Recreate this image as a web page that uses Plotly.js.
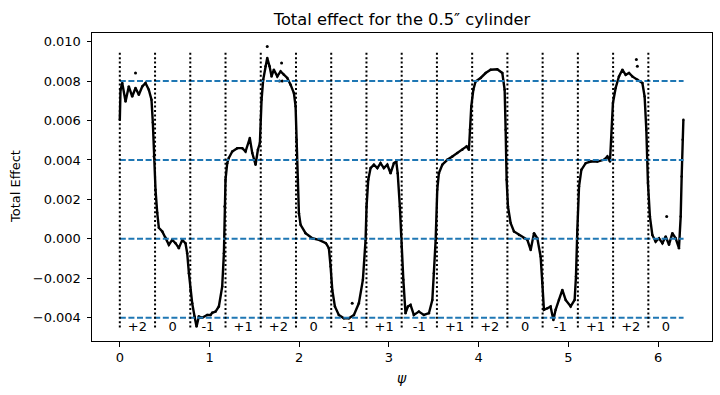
<!DOCTYPE html>
<html>
<head>
<meta charset="utf-8">
<script src="https://cdn.plot.ly/plotly-3.0.1.min.js"></script>
<style>html,body{margin:0;padding:0;background:#fff;}#chart{width:720px;height:395px;}</style>
</head>
<body>
<div id="chart"></div>
<script>
// Main measured curve: psi (rad) and total effect
const psi = [0.000,0.008,0.027,0.064,0.100,0.138,0.175,0.212,0.250,0.286,0.323,0.353,0.368,0.379,0.398,0.417,0.435,0.473,0.510,0.547,0.584,0.621,0.658,0.696,0.732,0.751,0.770,0.788,0.807,0.833,0.855,0.881,0.918,0.974,1.011,1.030,1.067,1.104,1.141,1.160,1.167,1.178,1.197,1.215,1.253,1.309,1.365,1.401,1.449,1.476,1.513,1.539,1.561,1.569,1.580,1.598,1.624,1.643,1.669,1.691,1.717,1.755,1.792,1.828,1.866,1.903,1.940,1.959,1.970,1.985,1.996,2.015,2.070,2.145,2.219,2.297,2.330,2.349,2.368,2.397,2.441,2.497,2.553,2.609,2.664,2.709,2.739,2.750,2.769,2.795,2.832,2.870,2.906,2.943,2.981,3.018,3.055,3.081,3.097,3.121,3.140,3.160,3.184,3.211,3.240,3.277,3.333,3.389,3.445,3.483,3.500,3.520,3.538,3.556,3.594,3.650,3.706,3.761,3.817,3.865,3.891,3.902,3.917,3.940,3.965,4.021,4.077,4.133,4.207,4.263,4.289,4.300,4.311,4.326,4.356,4.393,4.449,4.505,4.542,4.579,4.616,4.653,4.690,4.709,4.727,4.765,4.801,4.832,4.857,4.894,4.932,4.969,5.025,5.069,5.084,5.099,5.118,5.144,5.192,5.248,5.322,5.396,5.434,5.463,5.478,5.496,5.526,5.563,5.601,5.638,5.675,5.712,5.768,5.824,5.849,5.868,5.886,5.908,5.935,5.972,6.009,6.047,6.084,6.121,6.158,6.195,6.232,6.251,6.262,6.273,6.281];
const effect = [6.04e-3,7.56e-3,7.90e-3,6.97e-3,7.73e-3,7.22e-3,7.65e-3,7.31e-3,7.73e-3,7.90e-3,7.56e-3,7.06e-3,5.90e-3,4.18e-3,2.49e-3,1.32e-3,0.56e-3,0.37e-3,0.05e-3,-0.30e-3,-0.05e-3,-0.22e-3,-0.47e-3,-0.05e-3,-0.22e-3,-0.73e-3,-1.74e-3,-2.59e-3,-3.27e-3,-3.94e-3,-4.45e-3,-3.94e-3,-4.00e-3,-3.86e-3,-3.86e-3,-3.75e-3,-3.69e-3,-3.43e-3,-2.42e-3,-0.73e-3,1.64e-3,3.00e-3,3.84e-3,4.10e-3,4.43e-3,4.60e-3,4.60e-3,4.43e-3,5.11e-3,4.35e-3,3.76e-3,4.52e-3,4.86e-3,6.04e-3,7.06e-3,8.07e-3,8.75e-3,9.17e-3,8.75e-3,8.24e-3,8.58e-3,8.24e-3,8.49e-3,8.32e-3,8.16e-3,7.82e-3,7.40e-3,6.72e-3,5.03e-3,3.00e-3,1.30e-3,0.71e-3,0.29e-3,0.03e-3,-0.05e-3,-0.22e-3,-0.47e-3,-1.40e-3,-2.59e-3,-3.43e-3,-3.86e-3,-4.03e-3,-4.03e-3,-3.86e-3,-3.27e-3,-2.08e-3,-0.05e-3,1.64e-3,3.00e-3,3.59e-3,3.76e-3,3.59e-3,3.84e-3,3.59e-3,3.76e-3,3.33e-3,3.84e-3,3.92e-3,3.33e-3,1.64e-3,-0.39e-3,-2.08e-3,-3.77e-3,-3.43e-3,-3.35e-3,-3.86e-3,-3.69e-3,-3.86e-3,-3.77e-3,-3.10e-3,-1.74e-3,-0.05e-3,2.49e-3,3.33e-3,3.76e-3,4.01e-3,4.18e-3,4.35e-3,4.52e-3,4.69e-3,4.52e-3,5.53e-3,6.72e-3,7.56e-3,7.98e-3,8.16e-3,8.41e-3,8.58e-3,8.60e-3,8.41e-3,7.56e-3,5.53e-3,3.00e-3,1.64e-3,0.80e-3,0.37e-3,0.20e-3,0.03e-3,-0.05e-3,-0.56e-3,0.29e-3,0.03e-3,-0.90e-3,-2.25e-3,-3.60e-3,-3.52e-3,-3.43e-3,-4.11e-3,-3.60e-3,-3.10e-3,-2.59e-3,-3.10e-3,-3.43e-3,-3.10e-3,-1.91e-3,0.46e-3,2.65e-3,3.50e-3,3.84e-3,3.92e-3,3.92e-3,4.01e-3,4.18e-3,3.92e-3,5.03e-3,6.89e-3,7.65e-3,8.24e-3,8.58e-3,8.32e-3,8.41e-3,8.24e-3,8.07e-3,7.90e-3,7.22e-3,5.53e-3,2.83e-3,1.13e-3,0.20e-3,-0.14e-3,0.03e-3,-0.22e-3,0.12e-3,-0.30e-3,0.29e-3,0.03e-3,-0.47e-3,1.13e-3,3.16e-3,5.03e-3,6.04e-3];
// Isolated outlying points
const outlierPsi = [0.175,1.643,1.780,1.803,1.810,2.590,5.757,5.768,6.095];
const outlierEffect = [8.41e-3,9.76e-3,8.00e-3,8.92e-3,8.00e-3,-3.27e-3,9.09e-3,8.75e-3,1.13e-3];
// Reference levels and sector labels
const levels = [0.008, 0.004, 0.0, -0.004];
const sectorLabels = ['+2','0','-1','+1','+2','0','-1','+1','-1','+1','+2','0','-1','+1','+2','0'];
const sectorLineBottom = -0.0045, sectorLineTop = 0.0095, labelY = -0.0045;
const xTicks = [0,1,2,3,4,5,6];
const yTicks = [-0.004,-0.002,0,0.002,0.004,0.006,0.008,0.010];

const FONT = 'DejaVu Sans, sans-serif';
const traces = [];
traces.push({x: psi, y: effect, type: 'scatter', mode: 'lines+markers',
  line: {color: '#000', width: 2.4}, marker: {color: '#000', size: 2.5}, hoverinfo: 'skip'});
traces.push({x: outlierPsi, y: outlierEffect, type: 'scatter', mode: 'markers',
  marker: {color: '#000', size: 3}, hoverinfo: 'skip'});
// horizontal dashed levels
const hx = [], hy = [];
levels.forEach(v => { hx.push(0, 2*Math.PI, null); hy.push(v, v, null); });
traces.push({x: hx, y: hy, type: 'scatter', mode: 'lines',
  line: {color: '#1f77b4', width: 2, dash: '6px,2.6px'}, hoverinfo: 'skip'});
// vertical dotted sector edges
const vx = [], vy = [], lx = [];
sectorLabels.forEach((s, k) => {
  const e = k*Math.PI/8;
  vx.push(e, e, null); vy.push(sectorLineBottom, sectorLineTop, null);
  lx.push(e + Math.PI/16);
});
traces.push({x: vx, y: vy, type: 'scatter', mode: 'lines',
  line: {color: '#000', width: 2, dash: '2px,2.4px'}, hoverinfo: 'skip'});
traces.push({x: lx, y: sectorLabels.map(() => labelY), text: sectorLabels, type: 'scatter', mode: 'text',
  textposition: 'middle center', textfont: {family: FONT, size: 13, color: '#000'}, hoverinfo: 'skip'});

const axisCommon = {
  showgrid: false, zeroline: false, showline: true, mirror: true,
  linecolor: '#000', linewidth: 1, ticks: 'outside', ticklen: 4.5, tickwidth: 1, tickcolor: '#000',
  tickfont: {family: FONT, size: 13, color: '#000'}
};
const layout = {
  width: 720, height: 395,
  margin: {l: 92, r: 8, t: 33, b: 54, pad: 0},
  paper_bgcolor: '#fff', plot_bgcolor: '#fff',
  showlegend: false,
  title: {text: 'Total effect for the 0.5\u2033 cylinder', font: {family: FONT, size: 16.3, color: '#000'},
    x: 0.5, xref: 'paper', xanchor: 'center', y: 1 - 19/395, yref: 'container', yanchor: 'middle'},
  xaxis: Object.assign({}, axisCommon, {range: [-0.31, 6.60], tickvals: xTicks, ticktext: xTicks.map(String)}),
  yaxis: Object.assign({}, axisCommon, {range: [-0.00518, 0.01044], tickvals: yTicks, tickformat: '.3f', ticklabelstandoff: 3}),
  annotations: [
    {text: '<i>\u03c8</i>', xref: 'paper', yref: 'paper', x: 0.5, y: -(378-341)/308, xanchor: 'center', yanchor: 'middle',
      showarrow: false, font: {family: FONT, size: 14, color: '#000'}},
    {text: 'Total Effect', xref: 'paper', yref: 'paper', x: (15-92)/620, y: 0.5, xanchor: 'center', yanchor: 'middle',
      showarrow: false, textangle: -90, font: {family: FONT, size: 13, color: '#000'}}
  ]
};
Plotly.newPlot('chart', traces, layout, {staticPlot: true, displayModeBar: false});
</script>
</body>
</html>
